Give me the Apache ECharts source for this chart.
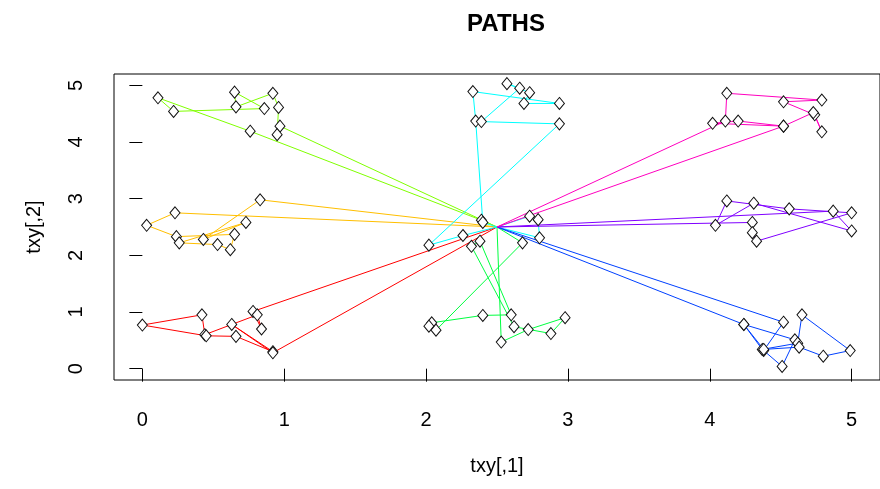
<!DOCTYPE html>
<html lang="en">
<head>
    <meta charset="UTF-8">
    <title>PATHS</title>
    <script src="https://cdn.jsdelivr.net/npm/echarts@6/dist/echarts.min.js"></script>
</head>
<body style="margin:0">
<div id="main" style="width: 880px;height:489px;"></div>
<script type="text/javascript">
    var myChart = echarts.init(document.getElementById('main'));

    // each path: list of [x, y] positions, center = [2.5, 2.5]
    var C = [2.5, 2.5];
    var redPath = [C, [0.78, 1.01], [0.84, 0.70], [0.81, 0.95], [0.44, 0.60], [0.42, 0.95], [0.00, 0.77],
        [0.45, 0.58], [0.66, 0.57], [0.92, 0.30], [0.63, 0.78], [0.92, 0.28], C];
    var orangePath = [C, [0.23, 2.75], [0.03, 2.53], [0.24, 2.33], [0.65, 2.37], [0.62, 2.10], [0.53, 2.19],
        [0.26, 2.22], [0.73, 2.58], [0.43, 2.28], [0.83, 2.98], C];
    var limePath = [C, [0.97, 4.28], [0.95, 4.13], [0.96, 4.61], [0.92, 4.86], [0.66, 4.62], [0.65, 4.88],
        [0.86, 4.59], [0.22, 4.54], [0.11, 4.78], [0.76, 4.19], [2.39, 2.62], C];
    var greenPath = [C, [2.53, 0.47], [2.72, 0.69], [2.98, 0.90], [2.88, 0.62], [2.62, 0.74], [2.32, 2.16],
        [2.38, 2.25], [2.60, 0.95], [2.40, 0.94], [2.04, 0.81], [2.02, 0.75], [2.07, 0.68], [2.68, 2.22], C];
    var cyanPath = [C, [2.40, 2.58], [2.35, 4.37], [2.33, 4.89], [2.94, 4.68], [2.69, 4.68], [2.73, 4.87],
        [2.57, 5.03], [2.66, 4.95], [2.39, 4.36], [2.94, 4.32], [2.02, 2.18], [2.26, 2.35], C,
        [2.73, 2.69], [2.79, 2.63], [2.80, 2.31], C];
    var bluePath = [C, [4.52, 0.82], [4.38, 0.32], [4.51, 0.04], [4.60, 0.51], [4.24, 0.78], [4.37, 0.34],
        [4.62, 0.45], [4.65, 0.95], [4.99, 0.32], [4.80, 0.22], [4.63, 0.38], [4.38, 0.34], [4.24, 0.78], C];
    var purplePath = [C, [4.30, 2.58], [4.30, 2.40], [4.33, 2.25], [5.00, 2.75], [4.56, 2.82], [4.12, 2.96],
        [4.04, 2.53], [4.31, 2.92], [5.00, 2.43], [4.87, 2.78], C];
    var magentaPath = [C, [4.11, 4.37], [4.12, 4.86], [4.79, 4.74], [4.52, 4.71], [4.74, 4.48], [4.79, 4.18],
        [4.73, 4.52], [4.52, 4.28], [4.02, 4.33], [4.20, 4.37], [4.52, 4.28], C];

    var paths = [redPath, orangePath, limePath, greenPath, cyanPath, bluePath, purplePath, magentaPath];
    var colors = ['#FF0000', '#FFBF00', '#80FF00', '#00FF40', '#00FFFF', '#0040FF', '#8000FF', '#FF00BF'];
    var tickValues = [0, 1, 2, 3, 4, 5];

    var series = paths.map(function (p, i) {
        return {
            type: 'line',
            data: p.map(function (pt) {
                // the center itself carries no marker
                if (pt === C) return {value: pt, symbol: 'none'};
                return pt;
            }),
            symbol: 'diamond',
            symbolSize: [10, 12],
            showSymbol: true,
            showAllSymbol: true,
            lineStyle: {color: colors[i], width: 1},
            itemStyle: {color: '#fff', borderColor: '#111', borderWidth: 1},
            z: 2
        };
    });

    var option = {
        backgroundColor: '#fff',
        animation: false,
        textStyle: {fontFamily: 'Liberation Sans'},
        title: {
            text: 'PATHS',
            left: 501,
            top: 7,
            textAlign: 'center',
            textStyle: {fontSize: 24, fontWeight: 'bold', color: '#000', fontFamily: 'Liberation Sans'}
        },
        grid: {
            left: 114, right: -9, top: 74, bottom: 109,
            show: true, borderColor: '#000', borderWidth: 1
        },
        xAxis: {
            type: 'value',
            min: -0.2, max: 5.2,
            name: 'txy[,1]',
            nameLocation: 'middle',
            nameGap: 76,
            nameTextStyle: {fontSize: 20, color: '#000'},
            axisLine: {show: false},
            axisTick: {show: true, length: 13, lineStyle: {color: '#000'}, customValues: tickValues},
            axisLabel: {fontSize: 20, color: '#000', margin: 30, customValues: tickValues},
            splitLine: {show: false}
        },
        yAxis: {
            type: 'value',
            min: -0.2, max: 5.2,
            name: 'txy[,2]',
            nameLocation: 'middle',
            nameRotate: 90,
            nameGap: 70,
            nameTextStyle: {fontSize: 20, color: '#000'},
            axisLine: {show: false},
            axisTick: {show: true, length: 13, lineStyle: {color: '#000'}, customValues: tickValues},
            axisLabel: {fontSize: 20, color: '#000', margin: 28, rotate: 90, customValues: tickValues},
            splitLine: {show: false}
        },
        series: series
    };

    myChart.setOption(option);
</script>
</body>
</html>
